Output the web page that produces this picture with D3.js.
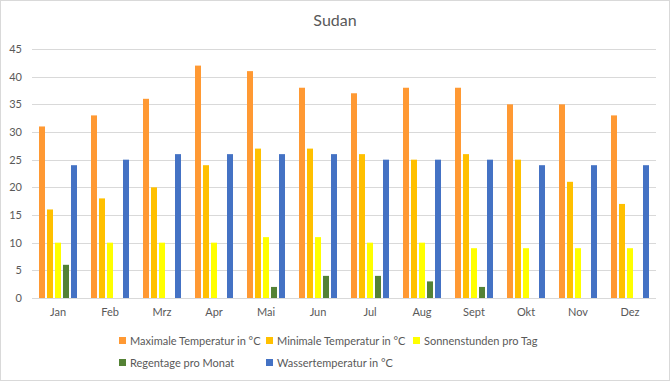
<!DOCTYPE html>
<html>
<head>
<meta charset="utf-8">
<script src="https://cdn.jsdelivr.net/npm/d3@7"></script>
<style>
  body { margin: 0; background: #fff; }
  svg text { font-family: Lato, "Open Sans", sans-serif; fill: #595959; }
</style>
</head>
<body>
<div id="graph"></div>
<script>
// chart data
const months = ["Jan", "Feb", "Mrz", "Apr", "Mai", "Jun", "Jul", "Aug", "Sept", "Okt", "Nov", "Dez"];
const seriesNames = ["Maximale Temperatur in °C", "Minimale Temperatur in °C", "Sonnenstunden pro Tag", "Regentage pro Monat", "Wassertemperatur in °C"];
const maxTemp = [31, 33, 36, 42, 41, 38, 37, 38, 38, 35, 35, 33];
const minTemp = [16, 18, 20, 24, 27, 27, 26, 25, 26, 25, 21, 17];
const sunHours = [10, 10, 10, 10, 11, 11, 10, 10, 9, 9, 9, 9];
const rainDays = [6, 0, 0, 0, 2, 4, 4, 3, 2, 0, 0, 0];
const waterTemp = [24, 25, 26, 26, 26, 26, 25, 25, 25, 24, 24, 24];
const yTicks = [0, 5, 10, 15, 20, 25, 30, 35, 40, 45];

const colors = ["#FF9933", "#FFC000", "#FFFF00", "#548235", "#4472C4"];
const allSeries = [maxTemp, minTemp, sunHours, rainDays, waterTemp];

const w = 670, h = 381;
const margin = { top: 49, right: 14, bottom: 83, left: 32 };
const innerWidth = w - margin.left - margin.right;
const innerHeight = h - margin.top - margin.bottom;

const svg = d3.select("#graph").append("svg")
    .attr("width", w)
    .attr("height", h);

// outer border
svg.append("rect")
    .attr("x", 0.5).attr("y", 0.5)
    .attr("width", w - 1).attr("height", h - 1)
    .attr("fill", "#fff")
    .attr("stroke", "#d9d9d9");

svg.append("text")
    .attr("x", w / 2)
    .attr("y", 26)
    .attr("text-anchor", "middle")
    .style("font-size", "16px")
    .text("Sudan");

const g = svg.append("g")
    .attr("transform", `translate(${margin.left},${margin.top})`);

const xScale = d3.scaleBand()
    .domain(months)
    .range([0, innerWidth])
    .padding(0);

// bars inside one month: 6px wide, 2px apart
const inner = d3.scaleBand()
    .domain(d3.range(seriesNames.length))
    .range([7, 45])
    .paddingInner(0.25)
    .paddingOuter(0);

const yScale = d3.scaleLinear()
    .domain([0, 45])
    .range([innerHeight, 0]);

// gridlines
g.append("g")
    .selectAll("line")
    .data(yTicks)
    .enter()
    .append("line")
    .attr("x1", 0)
    .attr("x2", innerWidth)
    .attr("y1", d => Math.round(yScale(d)) + 0.5)
    .attr("y2", d => Math.round(yScale(d)) + 0.5)
    .attr("stroke", "#d9d9d9")
    .attr("stroke-width", 1);

const yAxis = d3.axisLeft(yScale).tickValues(yTicks).tickSize(0).tickPadding(10);
const yAxisG = g.append("g").call(yAxis)
    .style("font-size", "11px");
yAxisG.select(".domain").remove();
yAxisG.selectAll("text").attr("fill", "#595959").style("font-family", "Lato, sans-serif");

const xAxis = d3.axisBottom(xScale).tickSize(0).tickPadding(10);
const xAxisG = g.append("g").call(xAxis)
    .attr("transform", `translate(0, ${innerHeight})`)
    .style("font-size", "11px");
xAxisG.select(".domain").remove();
xAxisG.selectAll("text").attr("fill", "#595959").style("font-family", "Lato, sans-serif");

// bars
allSeries.forEach((vals, si) => {
    g.append("g")
        .selectAll("rect")
        .data(vals)
        .enter()
        .append("rect")
        .attr("x", (d, i) => xScale(months[i]) + inner(si))
        .attr("width", inner.bandwidth())
        .attr("y", d => yScale(d))
        .attr("height", d => innerHeight - yScale(d))
        .attr("fill", colors[si]);
});

// legend
const legendPos = [[119, 341], [266, 341], [413, 341], [119, 363], [266, 363]];
const legend = svg.append("g")
    .selectAll("g")
    .data(seriesNames)
    .enter()
    .append("g")
    .attr("transform", (d, i) => `translate(${legendPos[i][0]},${legendPos[i][1]})`);
legend.append("rect")
    .attr("x", 0).attr("y", -4)
    .attr("width", 7).attr("height", 7)
    .attr("fill", (d, i) => colors[i]);
legend.append("text")
    .attr("x", 11)
    .attr("y", 4)
    .style("font-size", "11px")
    .text(d => d);
</script>
</body>
</html>
